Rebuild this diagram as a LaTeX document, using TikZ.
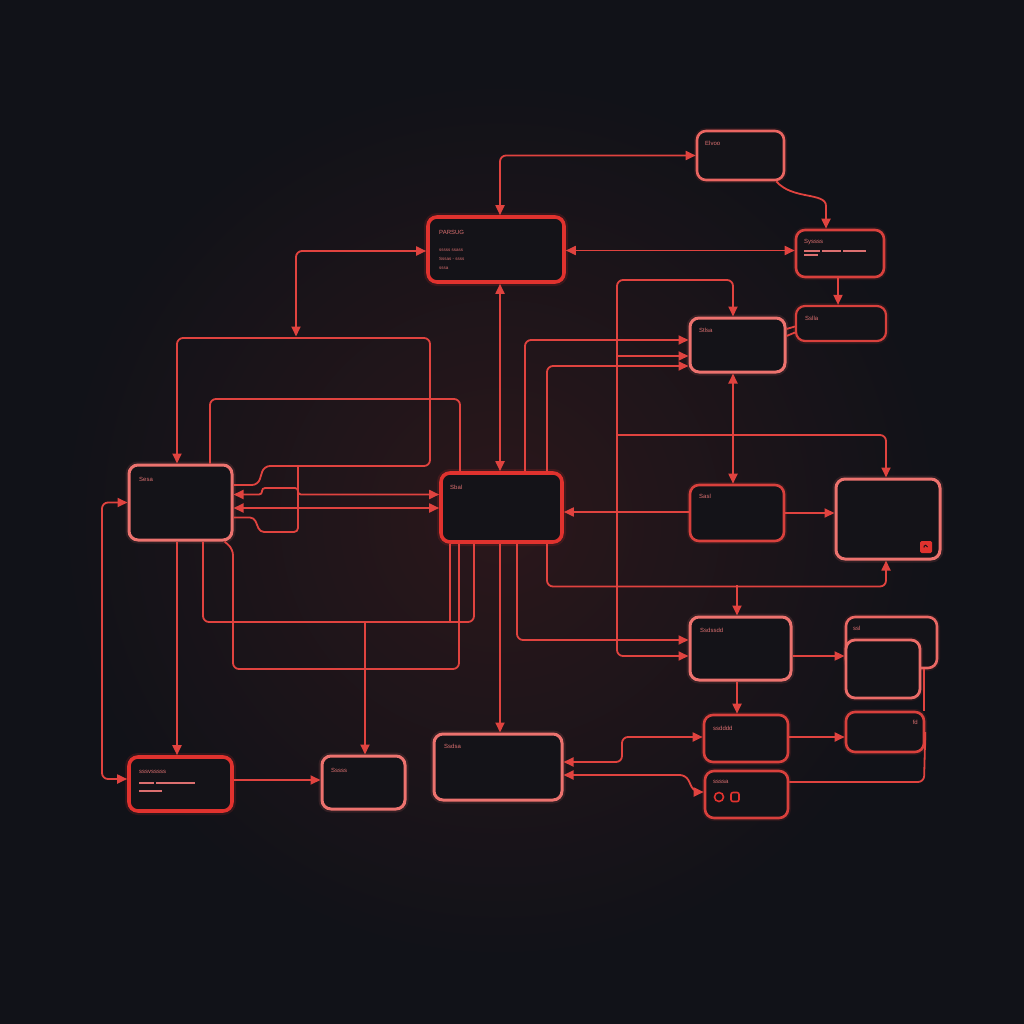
\documentclass[tikz,border=0pt]{standalone}
\usepackage{fontspec}
\setsansfont{Liberation Sans}
\usetikzlibrary{arrows.meta,calc}
\definecolor{bg}{HTML}{111218}
\definecolor{glowc}{HTML}{2B171B}
\definecolor{redA}{HTML}{E0322E}
\definecolor{redB}{HTML}{D8403C}
\definecolor{salm}{HTML}{EC726E}
\definecolor{wire}{HTML}{E0433F}
\definecolor{txt}{HTML}{DC7070}
\definecolor{boxfill}{HTML}{141318}
\tikzset{
  base/.style={rectangle, rounded corners=9pt, fill=boxfill, inner sep=0pt},
  boxR/.style={base, draw=redA, line width=3.6pt, preaction={draw=redA, line width=8pt, draw opacity=0.15}},
  boxM/.style={base, draw=redB, line width=2.6pt, preaction={draw=redB, line width=6pt, draw opacity=0.12}},
  boxS/.style={base, draw=salm, line width=3pt, preaction={draw=salm, line width=7pt, draw opacity=0.13}},
  wire/.style={draw=wire, line width=1.8pt, rounded corners=6pt},
  lbl/.style={anchor=west, text=txt, font=\sffamily\fontsize{6}{7}\selectfont, inner sep=0pt},
  bar/.style={fill=txt},
  >={Triangle[length=10pt,width=9pt]}
}
\begin{document}
\begin{tikzpicture}[x=1pt,y=-1pt]
\useasboundingbox (0,0) rectangle (1024,1024);
\fill[bg] (0,0) rectangle (1024,1024);
\shade[inner color=glowc, outer color=bg] (500,520) circle (440pt);

% nodes
\node[boxR, minimum width=136pt, minimum height=65pt] (A) at (496,249.5) {};
\node[boxM, draw=salm!80!redA, minimum width=87pt, minimum height=49pt] (B) at (740.5,155.5) {};
\node[boxM, minimum width=88pt, minimum height=47pt] (C) at (840,253.5) {};
\node[boxM, line width=2.2pt, minimum width=90pt, minimum height=35pt] (D) at (841,323.5) {};
\node[boxS, minimum width=95pt, minimum height=54pt] (E) at (737.5,345) {};
\node[boxS, minimum width=103pt, minimum height=75pt] (F) at (180.5,502.5) {};
\node[boxR, minimum width=121pt, minimum height=69pt] (G) at (501.5,507.5) {};
\node[boxM, minimum width=94pt, minimum height=56pt] (H) at (737,513) {};
\node[boxS, minimum width=104pt, minimum height=80pt] (I) at (888,519) {};
\node[boxS, minimum width=101pt, minimum height=63pt] (J) at (740.5,648.5) {};
\node[boxM, draw=salm!85!redA, minimum width=91pt, minimum height=51pt] (K2) at (891.5,642.5) {};
\node[boxM, draw=salm!90!redA, line width=2.8pt, minimum width=74pt, minimum height=58pt] (K) at (883,669) {};
\node[boxM, minimum width=84pt, minimum height=47pt] (L) at (746,738.5) {};
\node[boxM, minimum width=78pt, minimum height=40pt] (M) at (885,732) {};
\node[boxM, minimum width=83pt, minimum height=47pt] (N) at (746.5,794.5) {};
\node[boxS, minimum width=128pt, minimum height=66pt] (O) at (498,767) {};
\node[boxR, minimum width=103pt, minimum height=54pt] (P) at (180.5,784) {};
\node[boxS, minimum width=83pt, minimum height=53pt] (Q) at (363.5,782.5) {};

% labels
\node[lbl] (tA) at (439,232) {PARSUG};
\node[lbl, font=\sffamily\fontsize{4.5}{5}\selectfont] (tA1) at (439,250) {sssss ssass};
\node[lbl, font=\sffamily\fontsize{4.5}{5}\selectfont] (tA2) at (439,259) {Sssas - ssss};
\node[lbl, font=\sffamily\fontsize{4.5}{5}\selectfont] (tA3) at (439,268) {sssa};
\node[lbl] (tB) at (705,143) {Elvoo};
\node[lbl] (tC) at (804,242) {Syssss};
\fill[bar] (804,250.2) rectangle (820,252);
\fill[bar] (822,250.2) rectangle (841,252);
\fill[bar] (843,250.2) rectangle (866,252);
\fill[bar] (804,254.2) rectangle (818,255.6);
\node[lbl] (tD) at (805,318) {Sslla};
\node[lbl] (tE) at (699,330) {Stlsa};
\node[lbl] (tF) at (139,479) {Sesa};
\node[lbl] (tG) at (450,487) {Sbal};
\node[lbl] (tH) at (699,496) {Sasl};
\node[lbl] (tJ) at (700,630) {Ssdssdd};
\node[lbl] (tK) at (853,628) {ssl};
\node[lbl] (tL) at (713,728) {ssdddd};
\node[lbl, anchor=east] (tM) at (918,722) {fd};
\node[lbl] (tN) at (713,782) {ssssa};
\node[lbl] (tO) at (444,746) {Ssdsa};
\node[lbl] (tP) at (139,772) {sssvsssss};
\fill[bar] (139,782.3) rectangle (154,784);
\fill[bar] (156,782.3) rectangle (195,784);
\fill[bar] (139,790.3) rectangle (162,792);
\node[lbl] (tQ) at (331,770) {Sssss};

% small items
\node[fill=redA, rounded corners=1.5pt, minimum size=12pt, inner sep=0pt] (Isq) at (926,547) {};
\draw[bg, line width=0.9pt] (Isq.center) ++(1.5pt,0) arc (0:200:1.8pt);
\node[draw=redA, circle, line width=1.6pt, minimum size=9pt, inner sep=0pt] (Nc) at (719,797) {};
\node[draw=redA, rounded corners=2pt, line width=1.6pt, minimum width=8pt, minimum height=9pt, inner sep=0pt] (Nr) at (735,797) {};

% named junctions
\coordinate (j1) at (296,336.5);
\coordinate (j2) at (617,356);
\coordinate (j3) at (617,435);
\coordinate (j4) at (737,585);
\coordinate (j5) at (365,622);
\coordinate (j6) at (450,622);

% connectors
\draw[wire,<->] ($(A.north)+(4,0)$) |- (B.west);
\draw[wire,->] ($(B.south east)+(-9,0)$) .. controls (792,200) and (826,192) .. (826,212) -- ($(C.north)+(-14,0)$);
\draw[wire,<->] ($(A.east)+(0,1)$) -- ($(C.west)+(0,-3)$);
\draw[wire,<->] ($(A.west)+(0,1.5)$) -| (j1);
\draw[wire,->] ($(C.south)+(-2,0)$) -- ($(D.north)+(-3,0)$);
\draw[wire] ($(E.east)+(0,-16)$) -- ($(D.west)+(0,3)$);
\draw[wire] ($(E.east)+(0,-9)$) -- ($(D.west)+(0,9)$);

\draw[wire,<-] ($(F.north)+(-3.5,0)$) -- (177,338) -- (430,338) -- (430,466) -- (264,466) -- (258,485) -- ($(F.east)+(0,-17.5)$);
\draw[wire,rounded corners=3pt,<->] ($(F.east)+(0,-8)$) -- (262,494.5) -- (262,488) -- (298,488) -- (298,494.5) -- ($(G.west)+(0,-13)$);
\draw[wire,<->] ($(F.east)+(0,5.5)$) -- ($(G.west)+(0,0.5)$);
\draw[wire,rounded corners=4pt] ($(F.east)+(0,15)$) -- (254,517.5) -- (260,532) -- (298,532) -- (298,466);
\draw[wire] ($(F.north)+(29.5,0)$) -- (210,399) -- (460,399) -- ($(G.north)+(-41.5,0)$);

\draw[wire,<->] ($(A.south)+(4,0)$) -- ($(G.north)+(-1.5,0)$);
\draw[wire,->] ($(G.north)+(23.5,0)$) |- ($(E.west)+(0,-5)$);
\draw[wire,->] ($(G.north)+(45.5,0)$) |- ($(E.west)+(0,21)$);
\draw[wire,<->] ($(E.north)+(-4.5,0)$) |- (617,280) |- ($(J.west)+(0,7.5)$);
\draw[wire,->] (j2) -- ($(E.west)+(0,11)$);
\draw[wire,->] (j3) -| ($(I.north)+(-2,0)$);
\draw[wire,<->] ($(E.south)+(-4.5,0)$) -- ($(H.north)+(-4,0)$);
\draw[wire,->] ($(H.west)+(0,-1)$) -- ($(G.east)+(0,4.5)$);
\draw[wire,->] (H.east) -- ($(I.west)+(0,-6)$);
\draw[wire,->] ($(G.south)+(45.5,0)$) |- ($(I.south)+(-2,26)$) -- ($(I.south)+(-2,0)$);
\draw[wire,->] (j4) -- ($(J.north)+(-3.5,0)$);
\draw[wire,->] ($(G.south)+(15.5,0)$) |- ($(J.west)+(0,-8.5)$);
\draw[wire,->] ($(G.south)+(-1.5,0)$) -- ($(O.north)+(2,0)$);

\draw[wire] ($(G.south)+(-27.5,0)$) -- (474,622) -- (203,622) -- ($(F.south)+(22.5,0)$);
\draw[wire] ($(G.south)+(-51.5,0)$) -- (j6);
\draw[wire] ($(G.south)+(-42.5,0)$) -- (459,669) -- (233,669) -- (233,549) -- ($(F.south east)+(-9,0)$);
\draw[wire,->] (j5) -- ($(Q.north)+(1.5,0)$);
\draw[wire,->] ($(F.south)+(-3.5,0)$) -- ($(P.north)+(-3.5,0)$);
\draw[wire,<->] (F.west) -- (102,502.5) -- (102,779) -- ($(P.west)+(0,-5)$);
\draw[wire,->] ($(P.east)+(0,-4)$) -- ($(Q.west)+(0,-2.5)$);

\draw[wire,->] ($(J.south)+(-3.5,0)$) -- ($(L.north)+(-9,0)$);
\draw[wire,->] ($(J.east)+(0,7.5)$) -- ($(K.west)+(0,-13)$);
\draw[wire,->] ($(L.east)+(0,-1.5)$) -- ($(M.west)+(0,5)$);
\draw[wire,<->] ($(O.east)+(0,-5)$) -- (622,762) -- (622,737) -- ($(L.west)+(0,-1.5)$);
\draw[wire,<->] ($(O.east)+(0,8)$) -- (686,775) -- (694,792) -- ($(N.west)+(0,-2.5)$);
\draw[wire] ($(K2.south east)+(-14,0)$) -- ($(M.north east)+(-1,0)$);
\draw[wire] (M.east) -- (924,782) -- ($(N.east)+(0,-12.5)$);
\end{tikzpicture}
\end{document}
